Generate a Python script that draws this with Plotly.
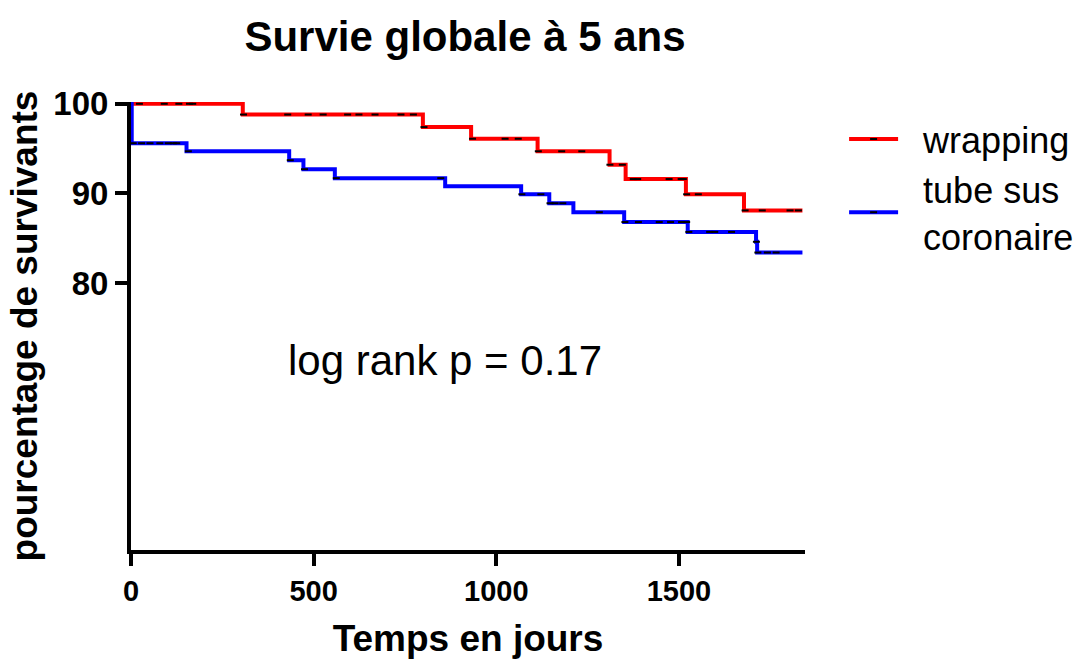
import numpy as np
import plotly.graph_objects as go

# Kaplan-Meier steps (time in days, survival %)
red_times = [0, 306, 799, 931, 1113, 1310, 1354, 1519, 1678, 1838]
red_surv = [100, 98.8, 97.4, 96.1, 94.7, 93.2, 91.6, 89.9, 88.1, 88.1]
blue_times = [0, 2, 152, 433, 472, 558, 860, 1068, 1145, 1211, 1350, 1524, 1711, 1714, 1838]
blue_surv = [100, 95.6, 94.7, 93.7, 92.7, 91.7, 90.8, 89.9, 88.9, 87.9, 86.8, 85.7, 84.6, 83.4, 83.4]

# censored observations (days)
red_censor = [23, 91, 131, 160, 169, 308, 429, 485, 526, 593, 624, 668, 739, 773, 802,
              935, 1024, 1060, 1115, 1179, 1234, 1311, 1345, 1375, 1387, 1473, 1506, 1512,
              1521, 1553, 1681, 1728, 1804, 1827]
blue_censor = [6, 29, 52, 79, 102, 116, 125, 157, 436, 475, 562, 848, 1070, 1122, 1147,
               1161, 1182, 1282, 1352, 1389, 1446, 1477, 1507, 1521, 1527, 1584, 1598,
               1644, 1712, 1716, 1742, 1766]

names = ["wrapping", "tube sus<br>coronaire"]
colors = ["#FF0000", "#0000FF"]
x_ticks = [0, 500, 1000, 1500]
y_ticks = [80, 90, 100]

FONT = "Liberation Sans, Arial, sans-serif"
PAD = "\u00a0\u00a0"


def step_value(times, surv, t):
    idx = np.searchsorted(np.array(times), t, side="right") - 1
    return [surv[i] for i in idx]


fig = go.Figure()
groups = [(red_times, red_surv, red_censor), (blue_times, blue_surv, blue_censor)]
for (times, surv, cens), name, col in zip(groups, names, colors):
    fig.add_trace(go.Scatter(x=times, y=surv, mode="lines", line=dict(color=col, width=4, shape="hv"),
                             showlegend=False, hoverinfo="skip", cliponaxis=False))
    fig.add_trace(go.Scatter(x=cens, y=step_value(times, surv, np.array(cens)), mode="markers",
                             marker=dict(symbol="line-ew", size=5, line=dict(width=2, color="black")),
                             showlegend=False, hoverinfo="skip", cliponaxis=False))
for name, col in zip(names, colors):
    label = "<br>".join(PAD + part for part in name.split("<br>"))
    fig.add_trace(go.Scatter(x=[None], y=[None], mode="lines+markers", name=label,
                             line=dict(color=col, width=4),
                             marker=dict(symbol="line-ew", size=5, line=dict(width=2, color="black"))))

fig.add_annotation(x=860, y=71.4, text="log rank p = 0.17", showarrow=False,
                   font=dict(family=FONT, size=42, color="black"))

fig.update_layout(
    template="none",
    width=1085, height=659,
    margin=dict(l=131, r=280, t=101.5, b=109, autoexpand=False),
    paper_bgcolor="white", plot_bgcolor="white",
    title=dict(text="<b>Survie globale à 5 ans</b>", x=465 / 1085, xanchor="center",
               y=1 - 36 / 659, yanchor="middle",
               font=dict(family=FONT, size=42, color="black")),
    font=dict(family=FONT, color="black"),
    legend=dict(x=1.058, y=0.984, xanchor="left", yanchor="top",
                font=dict(family=FONT, size=36, color="black"),
                bgcolor="rgba(0,0,0,0)", itemwidth=49, tracegroupgap=0),
    showlegend=True,
)
fig.update_xaxes(range=[0, 1845], tickvals=x_ticks, ticktext=[f"<b>{v}</b>" for v in x_ticks],
                 showline=True, linewidth=4, linecolor="black", ticks="outside", ticklen=12,
                 tickwidth=4, tickcolor="black", showgrid=False, zeroline=False, automargin=False,
                 tickfont=dict(size=29, family=FONT),
                 title=dict(text="<b>Temps en jours</b>", font=dict(size=37, family=FONT), standoff=20))
fig.update_yaxes(range=[50.2, 100.2], tickvals=y_ticks, ticktext=[f"<b>{v}</b>" for v in y_ticks],
                 showline=True, linewidth=4, linecolor="black", ticks="outside", ticklen=12,
                 tickwidth=4, tickcolor="black", showgrid=False, zeroline=False, automargin=False,
                 tickfont=dict(size=33, family=FONT),
                 title=dict(text="<b>pourcentage de survivants</b>", font=dict(size=37, family=FONT), standoff=5))

fig.write_html("out.html", config={"displayModeBar": False},
               post_script="document.body.style.margin='0px';")
